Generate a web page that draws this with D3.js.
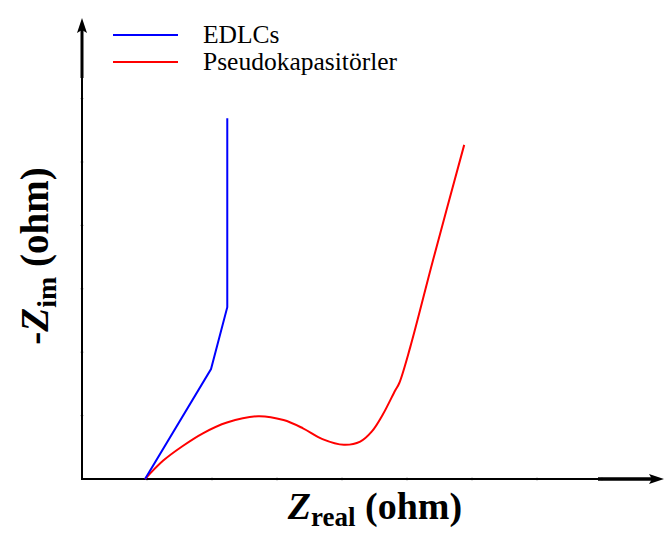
<!DOCTYPE html>
<html>
<head>
<meta charset="utf-8">
<script src="https://cdn.jsdelivr.net/npm/d3@7"></script>
<style>
  body { margin: 0; background: #fff; }
  svg { display: block; }
</style>
</head>
<body>
<svg id="chart" width="664" height="534"></svg>
<script>
// data (arbitrary units)
const edlcX = [0.97, 1.985, 2.235, 2.235];
const edlcY = [0, 1.735, 2.71, 5.69];

const pseudoX = [0.97, 1.25, 1.55, 1.86, 2.23, 2.71, 3.1, 3.4, 3.7, 4.03, 4.28, 4.46, 4.63, 4.82, 4.88, 5.05, 5.40, 5.88];
const pseudoY = [0, 0.29, 0.52, 0.72, 0.89, 0.99, 0.93, 0.80, 0.63, 0.54, 0.59, 0.75, 1.02, 1.40, 1.51, 2.08, 3.45, 5.27];

const xTicks = [1, 2, 3, 4, 5, 6, 7, 8];
const yTicks = [1, 2, 3, 4, 5, 6];

const seriesNames = ["EDLCs", "Pseudokapasitörler"];
const seriesColors = ["#0000ff", "#ff0000"];

const serif = "Times New Roman, Times, Liberation Serif, Tinos, Noto Serif, DejaVu Serif, FreeSerif, serif";

const svg = d3.select("#chart");
const x0 = 82, y0 = 479;

const x = d3.scaleLinear().domain([0, 9]).range([x0, x0 + 9 * 65]);
const y = d3.scaleLinear().domain([0, 7]).range([y0, y0 - 7 * 63.4]);

// faint ticks
svg.append("g")
  .selectAll("line")
  .data(xTicks)
  .join("line")
    .attr("x1", d => x(d)).attr("x2", d => x(d))
    .attr("y1", y0 - 2).attr("y2", y0 + 2)
    .attr("stroke", "#c8c8c8").attr("stroke-width", 1);
svg.append("g")
  .selectAll("line")
  .data(yTicks)
  .join("line")
    .attr("x1", x0 - 2).attr("x2", x0 + 2)
    .attr("y1", d => y(d)).attr("y2", d => y(d))
    .attr("stroke", "#c8c8c8").attr("stroke-width", 1);

// axes
svg.append("line")
  .attr("x1", x0).attr("x2", x0).attr("y1", y0 + 1).attr("y2", 30)
  .attr("stroke", "#000").attr("stroke-width", 2);
svg.append("line")
  .attr("x1", x0).attr("x2", x0).attr("y1", 78).attr("y2", 30)
  .attr("stroke", "#000").attr("stroke-width", 3);
svg.append("path")
  .attr("d", `M${x0},18 L${x0 - 5},33 L${x0},30 L${x0 + 5},33 Z`)
  .attr("fill", "#000");

svg.append("line")
  .attr("x1", x0 - 1).attr("x2", 652).attr("y1", y0).attr("y2", y0)
  .attr("stroke", "#000").attr("stroke-width", 2);
svg.append("line")
  .attr("x1", 598).attr("x2", 652).attr("y1", y0).attr("y2", y0)
  .attr("stroke", "#000").attr("stroke-width", 3.5);
svg.append("path")
  .attr("d", `M664,${y0} L649,${y0 - 5} L652,${y0} L649,${y0 + 5} Z`)
  .attr("fill", "#000");

// lines
const edlc = edlcX.map((d, i) => [d, edlcY[i]]);
const pseudo = pseudoX.map((d, i) => [d, pseudoY[i]]);

svg.append("path")
  .datum(pseudo)
  .attr("d", d3.line().x(d => x(d[0])).y(d => y(d[1])).curve(d3.curveCatmullRom.alpha(0.5)))
  .attr("fill", "none")
  .attr("stroke", seriesColors[1])
  .attr("stroke-width", 2);

svg.append("path")
  .datum(edlc)
  .attr("d", d3.line().x(d => x(d[0])).y(d => y(d[1])))
  .attr("fill", "none")
  .attr("stroke", seriesColors[0])
  .attr("stroke-width", 2);

// legend
const legend = svg.append("g");
seriesNames.forEach((name, i) => {
  const ly = 35 + i * 27;
  legend.append("line")
    .attr("x1", 113).attr("x2", 178).attr("y1", ly).attr("y2", ly)
    .attr("stroke", seriesColors[i]).attr("stroke-width", 2);
  legend.append("text")
    .attr("x", 203).attr("y", ly + 8)
    .attr("font-family", serif)
    .attr("font-size", 25.5)
    .text(name);
});

// axis labels
const xLab = svg.append("text")
  .attr("x", 375).attr("y", 519)
  .attr("text-anchor", "middle")
  .attr("font-family", serif)
  .attr("font-weight", "bold")
  .attr("font-size", 38);
xLab.append("tspan").attr("font-style", "italic").text("Z");
xLab.append("tspan").attr("dy", 7).attr("font-size", 27).text("real");
xLab.append("tspan").attr("dy", -7).text(" (ohm)");

const yLab = svg.append("text")
  .attr("transform", "translate(48,256) rotate(-90)")
  .attr("text-anchor", "middle")
  .attr("font-family", serif)
  .attr("font-weight", "bold")
  .attr("font-size", 39);
yLab.append("tspan").text("-");
yLab.append("tspan").attr("font-style", "italic").text("Z");
yLab.append("tspan").attr("dy", 8).attr("font-size", 28).text("im");
yLab.append("tspan").attr("dy", -8).text(" (ohm)");
</script>
</body>
</html>
